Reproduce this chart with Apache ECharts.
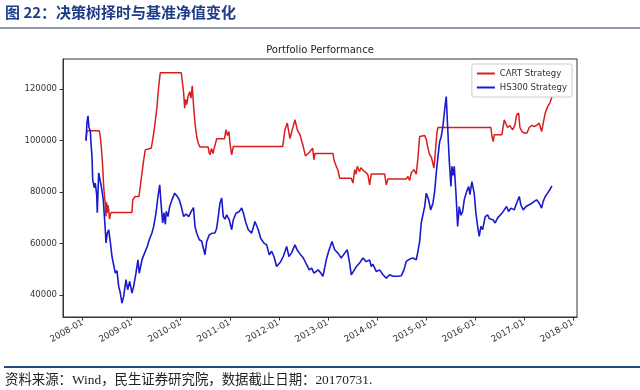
<!DOCTYPE html>
<html><head><meta charset="utf-8">
<script src="https://cdn.jsdelivr.net/npm/echarts@6/dist/echarts.min.js"></script>
<style>html,body{margin:0;padding:0;background:#fff}#c{width:640px;height:390px}</style>
</head><body><div id="c"></div>
<script>
// x values: months since 2008-01-01
const yearTicks = [0,12,24,36,48,60,72,84,96,108,120];
const yTicks = [40000,60000,80000,100000,120000];
const seriesNames = ['CART Strategy','HS300 Strategy'];
const hs300 = [[0.81,100000],[1.05,107000],[1.30,109600],[1.54,105000],[1.86,104000],[2.03,99000],[2.28,93800],[2.45,84800],[2.84,81700],[3.08,83500],[3.43,79000],[3.57,72000],[3.92,87500],[4.16,88000],[4.55,82200],[5.04,77000],[5.53,65400],[5.70,60300],[6.02,64000],[6.36,65400],[6.75,60800],[7.17,55000],[7.98,48600],[8.39,49500],[8.81,43400],[9.20,40900],[9.62,36900],[10.03,39500],[10.60,46000],[11.01,42100],[11.50,45300],[12.07,40800],[12.48,43500],[13.05,48600],[13.53,53700],[13.85,48500],[14.51,53700],[15.17,56400],[15.81,58900],[16.30,61500],[16.96,64200],[17.38,66700],[17.94,71800],[18.43,78300],[18.85,82800],[19.24,74400],[19.58,68000],[19.90,72000],[20.22,67500],[20.46,72500],[20.88,70500],[21.29,74400],[21.86,77000],[22.52,79600],[22.91,80200],[23.32,78000],[23.64,77000],[24.13,74400],[24.72,70500],[25.28,71500],[25.94,70500],[26.58,72500],[27.12,74000],[27.49,66700],[27.90,64100],[28.54,61500],[29.12,61000],[29.93,55700],[30.35,60800],[30.99,63400],[31.57,64000],[32.38,64100],[32.80,66000],[33.19,70500],[33.60,75700],[34.02,77700],[34.41,70500],[34.83,69500],[35.24,71200],[35.88,69200],[36.47,65400],[36.86,69200],[37.52,71800],[38.33,72500],[38.92,73800],[39.31,72000],[39.97,68000],[40.53,65400],[41.36,64100],[42.17,68600],[42.98,65400],[43.57,62100],[44.37,60200],[45.03,59500],[45.67,55700],[46.26,57000],[46.82,55000],[47.48,51100],[47.87,50500],[48.46,53000],[49.10,55000],[49.93,58900],[50.49,55000],[51.15,56500],[51.96,59500],[52.52,57500],[53.18,56000],[53.99,54500],[54.82,51800],[55.46,49800],[56.05,50500],[56.61,48500],[57.66,49800],[58.33,48500],[58.81,47300],[59.62,53700],[60.21,57000],[61.02,60800],[61.68,57600],[62.49,56300],[63.29,54400],[64.13,56300],[64.76,57600],[65.35,52400],[65.74,47900],[66.40,49500],[66.97,51100],[67.80,52500],[68.60,54400],[69.41,53000],[70.24,53700],[70.63,51100],[71.05,52000],[71.86,49200],[72.69,49800],[73.50,47900],[74.31,46600],[75.14,47900],[75.95,47300],[77.17,47300],[77.98,47500],[78.64,49800],[79.20,53100],[80.03,54000],[80.84,54400],[81.65,53700],[82.06,57000],[82.48,60800],[82.87,68000],[83.29,71200],[83.71,74400],[84.10,79600],[84.68,77000],[85.17,73100],[85.74,75700],[86.15,80200],[86.54,87300],[86.96,93800],[87.38,99600],[87.77,101600],[88.18,105500],[88.60,112000],[88.99,117100],[89.33,105500],[89.72,92600],[90.14,82200],[90.38,90000],[90.70,86500],[90.95,90000],[91.37,79600],[91.78,66700],[92.17,74400],[92.59,71000],[93.00,72500],[93.40,77000],[93.98,80200],[94.47,82200],[94.79,79000],[95.28,84100],[95.84,79500],[96.26,71800],[96.67,66700],[97.07,62800],[97.48,66700],[97.90,65400],[98.53,70500],[99.12,71200],[99.51,69800],[99.93,69200],[100.49,69200],[100.98,68000],[101.57,70000],[101.96,70500],[102.62,71800],[103.19,73100],[103.77,74400],[104.26,72500],[104.83,73800],[105.63,73100],[106.22,75700],[106.86,78300],[107.27,75000],[107.84,73100],[108.50,74400],[109.31,75100],[109.97,75700],[110.53,76400],[111.12,77000],[111.75,75700],[112.34,73800],[112.73,76400],[113.22,78300],[113.81,79600],[114.37,81000],[114.86,82400]];
const cart = [[0.81,100000],[1.05,103800],[4.06,103800],[4.31,101600],[4.55,97700],[4.89,90000],[5.14,82200],[5.34,78000],[5.53,75700],[5.70,70500],[5.87,76000],[6.02,72000],[6.19,75000],[6.36,73100],[6.56,69500],[6.75,71200],[7.00,72100],[12.07,72100],[12.24,77000],[12.87,78300],[13.78,78300],[14.10,82200],[14.51,87400],[14.93,92500],[15.32,96400],[15.74,97100],[16.79,97100],[17.13,100300],[17.62,105500],[18.19,113200],[18.60,121000],[18.99,126400],[24.13,126400],[24.72,118400],[24.96,112600],[25.21,116000],[25.45,114000],[25.77,117000],[26.19,119000],[26.51,116500],[26.82,121300],[27.12,114000],[27.49,106800],[27.90,101600],[28.29,99000],[28.71,97500],[30.74,97500],[30.91,95500],[31.16,94500],[31.52,97000],[31.89,95000],[32.26,97500],[32.80,100700],[34.71,100700],[35.07,104200],[35.44,102000],[35.81,103500],[36.05,99000],[36.47,94500],[36.86,97700],[48.95,97700],[49.51,104200],[50.08,106800],[50.74,100800],[51.35,104500],[51.96,108100],[52.57,104000],[53.18,102300],[53.99,97700],[54.53,94000],[54.97,93800],[55.51,95500],[56.29,97100],[56.61,92600],[56.86,95000],[61.26,95000],[61.51,92600],[62.07,90000],[62.49,88500],[62.90,85400],[65.74,85400],[66.16,83500],[66.58,88700],[66.90,87000],[67.21,90000],[67.75,88000],[68.12,89500],[68.60,88500],[69.41,87500],[69.83,86700],[70.24,82800],[70.63,87000],[73.91,87000],[74.31,82800],[74.72,85100],[79.20,85100],[79.62,86100],[80.03,84500],[80.42,87500],[81.09,88700],[81.65,87000],[82.06,93200],[82.48,101600],[83.71,102000],[84.10,100500],[84.51,97100],[84.93,94500],[85.37,93500],[85.98,89300],[86.30,95100],[86.71,102900],[86.96,105100],[99.93,105100],[100.18,101600],[100.49,99600],[100.74,102300],[102.62,102300],[103.19,108100],[103.60,106500],[104.02,105100],[104.58,105800],[105.24,104200],[105.80,106000],[106.22,110000],[106.71,110700],[107.03,105100],[107.52,103500],[108.01,103000],[108.75,103000],[109.31,105100],[109.97,105900],[110.53,105500],[111.12,105900],[111.75,106800],[112.34,103500],[112.73,106800],[113.22,110700],[113.81,113200],[114.37,114700],[114.86,116900]];

const chart = echarts.init(document.getElementById('c'), null, {renderer:'canvas'});
const axisFont = 'DejaVu Sans';
chart.setOption({
  animation: false,
  backgroundColor: '#fff',
  title: {
    text: 'Portfolio Performance', left: 'center', top: 40,
    textStyle: {fontFamily: axisFont, fontSize: 10, fontWeight: 'normal', color: '#222'}
  },
  legend: {
    orient: 'vertical', right: 68, top: 64,
    data: seriesNames, icon: 'rect', itemWidth: 18, itemHeight: 2, itemGap: 5,
    padding: [5, 5, 5, 5],
    borderColor: '#ccc', borderWidth: 1, borderRadius: 2, backgroundColor: '#fff',
    textStyle: {fontFamily: axisFont, fontSize: 8.5, color: '#333'}
  },
  grid: {left: 63, right: 63, top: 59, bottom: 73, show: true, borderColor: '#333', borderWidth: 1, backgroundColor: 'transparent'},
  xAxis: {
    type: 'value', min: -4.82, max: 121,
    axisLine: {show: true, onZero: false, lineStyle: {color: '#333'}},
    axisTick: {show: true, customValues: yearTicks, length: 3.5, lineStyle: {color: '#333'}},
    axisLabel: {customValues: yearTicks, rotate: 30, fontFamily: axisFont, fontSize: 8.8, color: '#333', margin: 5,
      formatter: v => (2008 + Math.round(v / 12)) + '-01'},
    splitLine: {show: false}
  },
  yAxis: {
    type: 'value', min: 31500, max: 131700,
    axisLine: {show: true, onZero: false, lineStyle: {color: '#333'}},
    axisTick: {show: true, customValues: yTicks, length: 3.5, lineStyle: {color: '#333'}},
    axisLabel: {customValues: yTicks, fontFamily: axisFont, fontSize: 8.5, color: '#333', margin: 6,
      formatter: v => String(v)},
    splitLine: {show: false}
  },
  series: [
    {name: seriesNames[0], type: 'line', data: cart, showSymbol: false, symbol: 'none',
      lineStyle: {color: '#d81e1e', width: 1.5}, itemStyle: {color: '#d81e1e'}},
    {name: seriesNames[1], type: 'line', data: hs300, showSymbol: false, symbol: 'none',
      lineStyle: {color: '#1a1acc', width: 1.6}, itemStyle: {color: '#1a1acc'}}
  ],
  graphic: [
    {type: 'text', left: 5, top: 5, style: {text: '图 22：决策树择时与基准净值变化', font: 'bold 15px "Noto Sans CJK SC"', fill: '#1f3c88'}},
    {type: 'line', shape: {x1: 0, y1: 28, x2: 640, y2: 28}, style: {stroke: '#1f3354', lineWidth: 1}},
    {type: 'line', shape: {x1: 4, y1: 367, x2: 640, y2: 367}, style: {stroke: '#1f4e79', lineWidth: 2}},
    {type: 'text', left: 5, top: 374, style: {text: '资料来源：Wind，民生证券研究院，数据截止日期：20170731.', font: '13.4px "Liberation Serif", "Noto Sans CJK SC"', fill: '#222'}}
  ]
});
</script></body></html>
